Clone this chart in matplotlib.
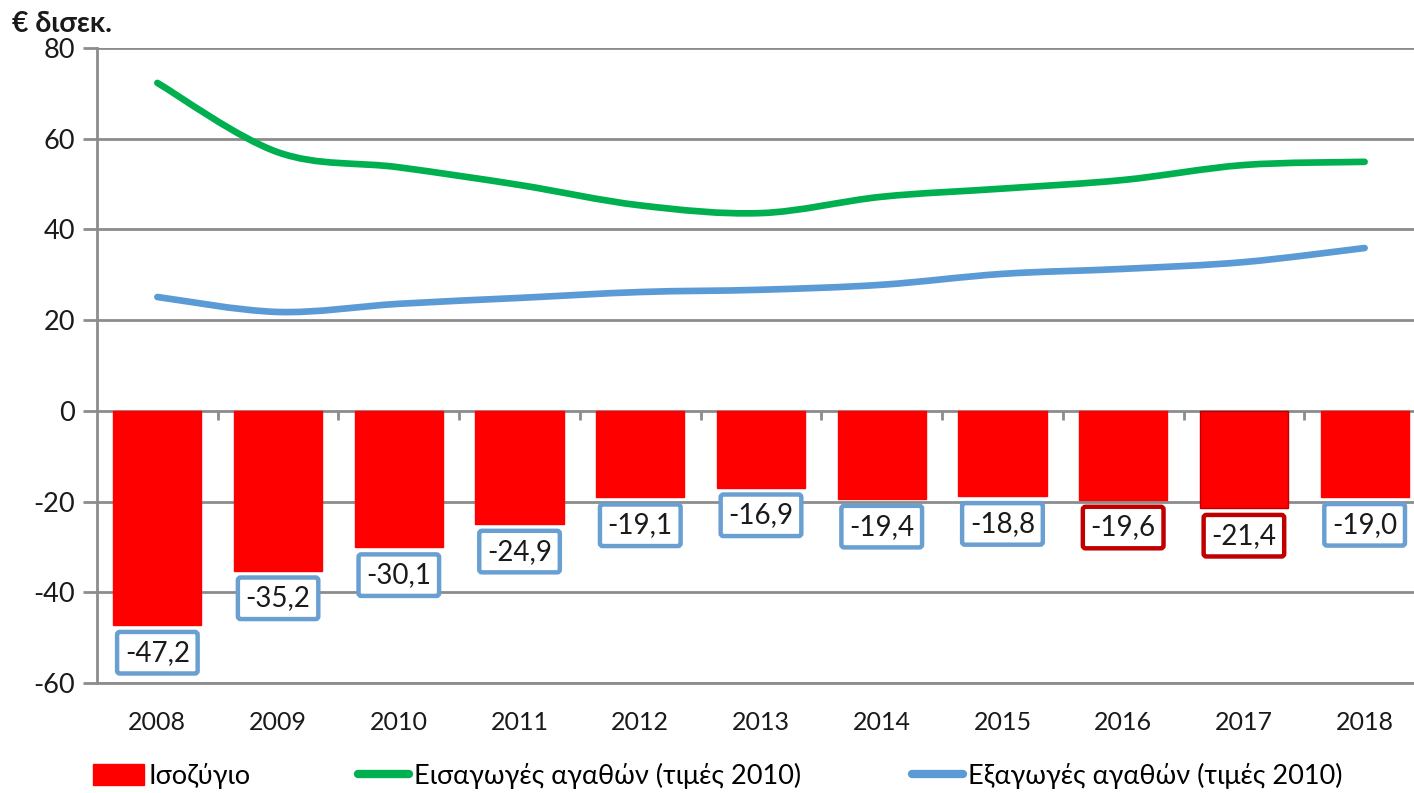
import numpy as np
import matplotlib
matplotlib.use("Agg")
import matplotlib.pyplot as plt
from matplotlib.path import Path
from matplotlib.patches import PathPatch, Patch
from matplotlib.lines import Line2D

plt.rcParams['font.family'] = ['Lato', 'DejaVu Sans']
plt.rcParams['axes.unicode_minus'] = False

years = ['2008', '2009', '2010', '2011', '2012', '2013', '2014', '2015', '2016', '2017', '2018']
balance = [-47.2, -35.2, -30.1, -24.9, -19.1, -16.9, -19.4, -18.8, -19.6, -21.4, -19.0]
imports = [72.3, 57.0, 53.7, 49.8, 45.3, 43.6, 47.2, 49.0, 50.9, 54.2, 54.9]
exports = [25.1, 21.8, 23.6, 24.9, 26.2, 26.7, 27.8, 30.2, 31.3, 32.8, 35.9]
highlight = ['2016', '2017']

label_bar = 'Ισοζύγιο'
label_imp = 'Εισαγωγές αγαθών (τιμές 2010)'
label_exp = 'Εξαγωγές αγαθών (τιμές 2010)'

RED = '#FF0000'
GREEN = '#00B050'
BLUE = '#5B9BD5'
GRAY = '#8C8C8C'

fig = plt.figure(figsize=(14.14, 7.93), dpi=100)
ax = fig.add_axes([97/1414, 110/793, 1328/1414, 635/793])

x = np.arange(len(years))

# bars
bar_edges = ['#C00000' if y == '2017' else RED for y in years]
ax.bar(x, balance, width=0.73, color=RED, edgecolor=bar_edges, linewidth=1, zorder=3)


def smooth_path(xs, ys):
    # catmull-rom style smoothing, drawn as cubic bezier segments
    pts = np.column_stack([xs, ys]).astype(float)
    ext = np.vstack([pts[0], pts, pts[-1]])
    verts = [tuple(pts[0])]
    codes = [Path.MOVETO]
    for i in range(len(pts) - 1):
        p0, p1, p2, p3 = ext[i], ext[i+1], ext[i+2], ext[i+3]
        c1 = p1 + (p2 - p0) / 6
        c2 = p2 - (p3 - p1) / 6
        verts += [tuple(c1), tuple(c2), tuple(p2)]
        codes += [Path.CURVE4] * 3
    return Path(verts, codes)


for vals, col in [(imports, GREEN), (exports, BLUE)]:
    ax.add_patch(PathPatch(smooth_path(x, vals), facecolor='none', edgecolor=col,
                           lw=4.8, capstyle='round', zorder=4))

# value labels
for xi, yr, v in zip(x, years, balance):
    ec = '#C00000' if yr in highlight else '#6A9FD2'
    ax.annotate(f'{v:.1f}'.replace('.', ','), (xi, v), xytext=(0, -20),
                textcoords='offset points', ha='center', va='center',
                fontsize=20, color='#1a1a1a', zorder=5,
                bbox=dict(boxstyle='round,pad=0.28,rounding_size=0.1',
                          fc='white', ec=ec, lw=3.2))

ax.set_xlim(-0.5, len(years) - 0.5)
ax.set_ylim(-60, 80)
ax.set_yticks(range(-60, 81, 20))
ax.set_xticks(x)
ax.set_xticklabels(years)
ax.tick_params(axis='y', labelsize=19.5, length=10, width=2, color=GRAY, pad=6, labelcolor='#1a1a1a')
ax.tick_params(axis='x', labelsize=18, length=0, pad=20, labelcolor='#1a1a1a')
ax.grid(axis='y', color=GRAY, lw=2, zorder=0)
ax.set_axisbelow(True)
for s in ['top', 'right']:
    ax.spines[s].set_visible(False)
for s in ['left', 'bottom']:
    ax.spines[s].set_color(GRAY)
    ax.spines[s].set_linewidth(2)

# category separator ticks on the zero line
ax.vlines(x[:-1] + 0.5, -2, 0, color=GRAY, lw=2, zorder=2)

fig.text(12/1414, 1 - 24/793, '€ δισεκ.', fontsize=20.5, fontweight='bold',
         va='center', ha='left', color='#1a1a1a')

handles = [Patch(facecolor=RED, edgecolor=RED),
           Line2D([], [], color=GREEN, lw=6, solid_capstyle='round'),
           Line2D([], [], color=BLUE, lw=6, solid_capstyle='round')]
labels = [label_bar, label_imp, label_exp]
xs_leg = [93/1414, 358/1414, 912/1414]
for h, l, xl in zip(handles, labels, xs_leg):
    fig.legend([h], [l], loc='center left', bbox_to_anchor=(xl, 1 - 776/793),
               frameon=False, fontsize=19.5, handlelength=1.9, handletextpad=0.15,
               borderaxespad=0, borderpad=0, handleheight=0.8)

fig.savefig('out.png', dpi=100)
